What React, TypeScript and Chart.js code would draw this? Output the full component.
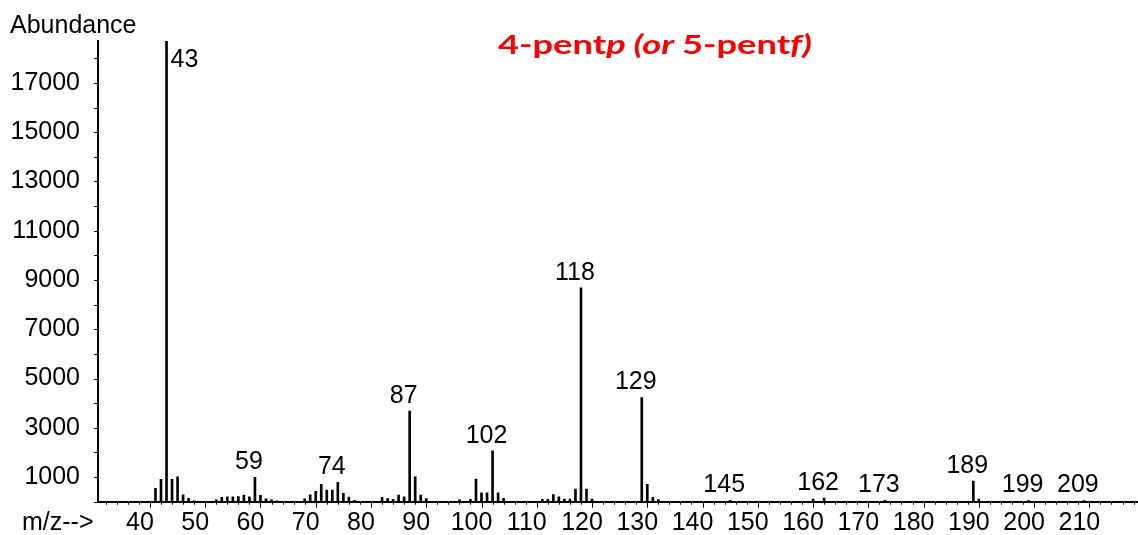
import React, { useEffect, useRef } from 'react';
import { Chart, registerables } from 'chart.js';

Chart.register(...registerables);

// m/z of each peak
const mzValues = [
  41, 42, 43, 44, 45, 46, 47, 48,
  52, 53, 54, 55, 56, 57, 58, 59, 60, 61, 62, 63,
  68, 69, 70, 71, 72, 73, 74, 75, 76, 77,
  82, 83, 84, 85, 86, 87, 88, 89, 90,
  96, 98, 99, 100, 101, 102, 103, 104,
  111, 112, 113, 114, 115, 116, 117, 118, 119, 120,
  129, 130, 131, 132,
  145, 160, 162, 173, 189, 190, 199, 209,
];

// abundance of each peak
const abundances = [
  540, 910, 18700, 910, 1010, 280, 140, 40,
  80, 180, 200, 200, 210, 270, 200, 990, 260, 120, 80, 40,
  120, 280, 420, 700, 470, 470, 790, 340, 190, 60,
  180, 130, 100, 270, 200, 3680, 1010, 270, 130,
  80, 100, 920, 360, 360, 2060, 360, 140,
  100, 100, 290, 200, 110, 110, 515, 8680, 515, 110,
  4230, 700, 180, 90,
  60, 110, 150, 60, 840, 110, 50, 50,
];

// peaks that carry an m/z label
const labeledPeaks = [43, 59, 74, 87, 102, 118, 129, 145, 162, 173, 189, 199, 209];

// axis ticks
const yTicks = [0, 1000, 2000, 3000, 4000, 5000, 6000, 7000, 8000, 9000, 10000, 11000, 12000, 13000, 14000, 15000, 16000, 17000, 18000];
const yLabelled = [1000, 3000, 5000, 7000, 9000, 11000, 13000, 15000, 17000];
const xTickStep = 2;
const xLabelled = [40, 50, 60, 70, 80, 90, 100, 110, 120, 130, 140, 150, 160, 170, 180, 190, 200, 210];

const X_MIN = 30.6;
const X_MAX = 218.8;
const Y_MAX = 18700;

const FONT = '"Liberation Sans", Arial, sans-serif';

const titleParts: [string, boolean][] = [
  ['4-pent', false],
  ['p (or ', true],
  ['5-pent', false],
  ['f)', true],
];

export default function App() {
  const ref = useRef<HTMLCanvasElement>(null);

  useEffect(() => {
    document.body.style.margin = '0';
    const canvas = ref.current!;
    const peakMap = new Map<number, number>();
    mzValues.forEach((m, i) => peakMap.set(m, abundances[i]));

    const annot = {
      id: 'annot',
      afterDraw(chart: any) {
        const ctx = chart.ctx as CanvasRenderingContext2D;
        const xs = chart.scales.x;
        const ys = chart.scales.y;
        const area = chart.chartArea;
        ctx.save();
        ctx.strokeStyle = '#000';
        ctx.lineWidth = 1;
        // x tick marks
        xs.ticks.forEach((t: any) => {
          const v = t.value;
          const px = Math.round(xs.getPixelForValue(v)) + 0.5;
          const len = xLabelled.includes(v) || v % 10 === 0 ? 6 : 3;
          ctx.beginPath();
          ctx.moveTo(px, area.bottom);
          ctx.lineTo(px, area.bottom + len);
          ctx.stroke();
        });
        // y tick marks
        ys.ticks.forEach((t: any) => {
          const py = Math.round(ys.getPixelForValue(t.value)) + 0.5;
          ctx.beginPath();
          ctx.moveTo(area.left - 4, py);
          ctx.lineTo(area.left, py);
          ctx.stroke();
        });

        ctx.fillStyle = '#000';
        ctx.font = `25px ${FONT}`;
        ctx.textBaseline = 'alphabetic';
        // peak labels
        labeledPeaks.forEach((m) => {
          const val = peakMap.get(m) ?? 0;
          const px = xs.getPixelForValue(m);
          const py = ys.getPixelForValue(val);
          if (m === 43) {
            ctx.textAlign = 'left';
            ctx.fillText(String(m), px + 4, py + 26);
          } else {
            ctx.textAlign = 'center';
            ctx.fillText(String(m), px - 6, py - 8);
          }
        });

        // axis captions
        ctx.textAlign = 'left';
        ctx.fillText('Abundance', 10, 33);
        ctx.fillText('m/z-->', 22, 530);

        // title
        ctx.fillStyle = '#ff0000';
        const fontFor = (it: boolean) => `${it ? 'italic ' : ''}bold 27px Lato, "Open Sans", sans-serif`;
        let total = 0;
        titleParts.forEach(([s, it]) => {
          ctx.font = fontFor(it);
          total += ctx.measureText(s).width;
        });
        const target = 314;
        const sx = target / total;
        ctx.translate(498, 54);
        ctx.scale(sx, 1);
        let x = 0;
        titleParts.forEach(([s, it]) => {
          ctx.font = fontFor(it);
          ctx.fillText(s, x, 0);
          x += ctx.measureText(s).width;
        });
        ctx.restore();
      },
    };

    const chart = new Chart(canvas, {
      type: 'bar',
      data: {
        datasets: [
          {
            data: mzValues.map((m, i) => ({ x: m, y: abundances[i] })) as any,
            backgroundColor: '#000',
            borderWidth: 0,
            barThickness: 2,
          },
        ],
      },
      options: {
        animation: false,
        responsive: false,
        maintainAspectRatio: false,
        layout: { padding: { top: 41, left: 0, right: 0, bottom: 0 } },
        plugins: {
          legend: { display: false },
          tooltip: { enabled: false },
          title: { display: false },
        },
        scales: {
          x: {
            type: 'linear',
            min: X_MIN,
            max: X_MAX,
            offset: false,
            grid: { display: false },
            border: { display: true, color: '#000', width: 2 },
            afterBuildTicks: (s: any) => {
              const ticks: { value: number }[] = [];
              for (let v = Math.ceil(X_MIN / xTickStep) * xTickStep; v <= X_MAX; v += xTickStep) ticks.push({ value: v });
              s.ticks = ticks;
            },
            ticks: {
              autoSkip: false,
              maxRotation: 0,
              minRotation: 0,
              labelOffset: -10,
              padding: -2,
              color: '#000',
              font: { family: FONT, size: 25 },
              callback: (v: any) => (xLabelled.includes(v) ? String(v) : ''),
            },
            afterFit: (s: any) => {
              s.height = 33.3;
            },
          },
          y: {
            type: 'linear',
            position: 'left',
            min: 0,
            max: Y_MAX,
            grid: { display: false },
            border: { display: true, color: '#000', width: 2 },
            afterBuildTicks: (s: any) => {
              s.ticks = yTicks.map((v) => ({ value: v }));
            },
            ticks: {
              autoSkip: false,
              padding: 10,
              color: '#000',
              font: { family: FONT, size: 25 },
              callback: (v: any) => (yLabelled.includes(v) ? String(v) : ''),
            },
            afterFit: (s: any) => {
              s.width = 98;
            },
          },
        },
      },
      plugins: [annot],
    } as any);

    return () => chart.destroy();
  }, []);

  return (
    <canvas
      ref={ref}
      width={1138}
      height={535}
      style={{ display: 'block', width: 1138, height: 535, background: '#fff' }}
    />
  );
}
